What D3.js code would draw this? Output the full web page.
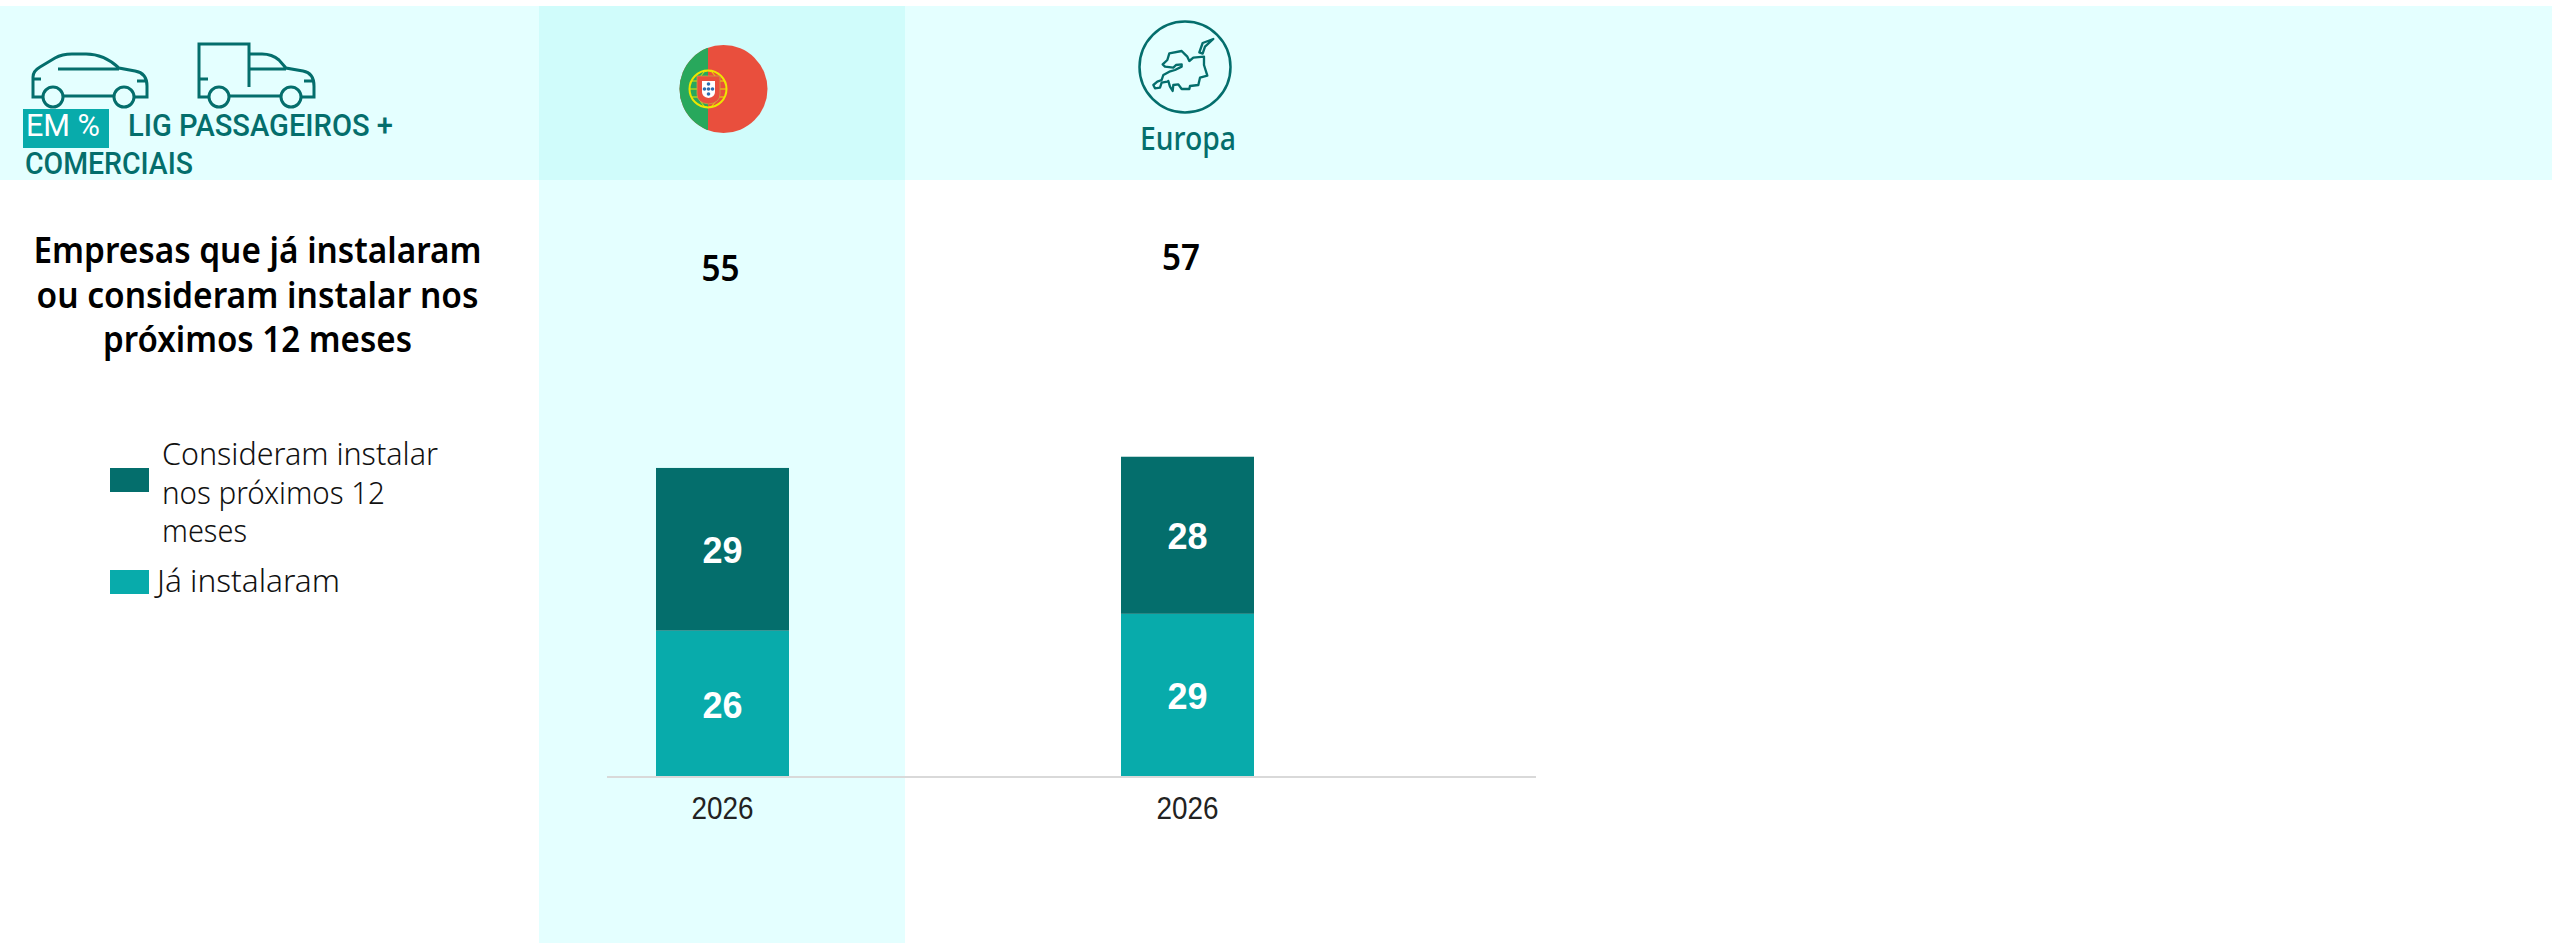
<!DOCTYPE html>
<html><head><meta charset="utf-8">
<script src="https://cdn.jsdelivr.net/npm/d3@7/dist/d3.min.js"></script>
<style>html,body{margin:0;padding:0;background:#fff;overflow:hidden}svg{display:block}</style>
</head><body><svg id="c" width="2552" height="943"></svg>
<script>
const groups = ["Portugal", "Europa"];
const tickLabels = ["2026", "2026"];
const installed = [26, 29];
const considering = [29, 28];
const totals = [55, 57];
const seriesNames = ["Já instalaram", "Consideram instalar"];
const titleLines = ["Empresas que já instalaram", "ou consideram instalar nos", "próximos 12 meses"];
const titleWidths = [448, 442, 309];
const legendLines = ["Consideram instalar", "nos próximos 12", "meses"];
const legendWidths = [276, 223, 85];

const DARK = "#046e6c", TEAL = "#08abab", BAND = "#e4ffff", HILITE = "#d0fcfb";
const sans = "'Noto Sans', sans-serif", arial = "'Liberation Sans', Arial, sans-serif", rob = "Roboto, sans-serif";
const svg = d3.select("#c");
const fit = (sel, w) => sel.attr("textLength", w).attr("lengthAdjust", "spacingAndGlyphs");

// backgrounds
svg.append("rect").attr("x",0).attr("y",6).attr("width",2552).attr("height",174).attr("fill",BAND);
svg.append("rect").attr("x",539).attr("y",6).attr("width",366).attr("height",937).attr("fill",BAND);
svg.append("rect").attr("x",539).attr("y",6).attr("width",366).attr("height",174).attr("fill",HILITE);

// scales
const p = 1 - 133/465;
const x = d3.scaleBand().domain(groups).range([490,1420]).paddingInner(p).paddingOuter(p/2);
const y = d3.scaleLinear().domain([0,100]).range([776.5,215.5]);

// bars
const rows = groups.map((g,i)=>({group:g, installed:installed[i], considering:considering[i], total:totals[i]}));
const stacked = d3.stack().keys(["installed","considering"])(rows);
const color = d3.scaleOrdinal().domain(["installed","considering"]).range([TEAL,DARK]);
const layer = svg.selectAll("g.layer").data(stacked).join("g").attr("class","layer").attr("fill",d=>color(d.key));
layer.selectAll("rect").data(d=>d).join("rect")
  .attr("x",d=>x(d.data.group)).attr("width",x.bandwidth())
  .attr("y",d=>y(d[1])).attr("height",d=>y(d[0])-y(d[1]));
layer.selectAll("text").data(d=>d).join("text")
  .attr("x",d=>x(d.data.group)+x.bandwidth()/2).attr("y",d=>(y(d[0])+y(d[1]))/2+14)
  .attr("text-anchor","middle").attr("fill","#fff")
  .attr("font-family",arial).attr("font-weight",700).attr("font-size",36)
  .text(d=>d[1]-d[0]);

// axis
const axis = d3.axisBottom(x).tickSize(0).tickPadding(0).tickFormat((d,i)=>tickLabels[i]);
const ax = svg.append("g").attr("transform","translate(0,777)").call(axis);
ax.select(".domain").remove();
ax.selectAll("text").attr("y",42).attr("dy",0).attr("fill","#222").attr("font-family",arial).attr("font-size",31)
  .attr("textLength",62).attr("lengthAdjust","spacingAndGlyphs");
svg.append("line").attr("x1",607).attr("x2",1536).attr("y1",777).attr("y2",777).attr("stroke","#d9d9d9").attr("stroke-width",2);

// totals
fit(svg.selectAll("text.total").data(rows).join("text").attr("class","total")
  .attr("x",(d,i)=>i===0?720.5:1181).attr("y",d=>y(d.total)-186.5)
  .attr("text-anchor","middle").attr("fill","#000").attr("font-family",sans).attr("font-weight",600).attr("font-size",36)
  .text(d=>d.total), 38);

// title
svg.selectAll("text.title").data(titleLines).join("text").attr("class","title")
  .attr("x",257.5).attr("y",(d,i)=>263+i*44.5).attr("text-anchor","middle").attr("fill","#000")
  .attr("font-family",sans).attr("font-weight",600).attr("font-size",36)
  .attr("textLength",(d,i)=>titleWidths[i]).attr("lengthAdjust","spacingAndGlyphs").text(d=>d);

// legend
svg.append("rect").attr("x",110).attr("y",468).attr("width",39).attr("height",24).attr("fill",DARK);
svg.append("rect").attr("x",110).attr("y",570).attr("width",39).attr("height",24).attr("fill",TEAL);
svg.selectAll("text.leg").data(legendLines).join("text").attr("class","leg")
  .attr("x",162).attr("y",(d,i)=>465+i*38.5).attr("fill","#111")
  .attr("font-family",sans).attr("font-weight",300).attr("font-size",31)
  .attr("textLength",(d,i)=>legendWidths[i]).attr("lengthAdjust","spacingAndGlyphs").text(d=>d);
fit(svg.append("text").attr("x",157).attr("y",592).attr("fill","#111")
  .attr("font-family",sans).attr("font-weight",300).attr("font-size",31).text(seriesNames[0]), 183);

// header text
svg.append("rect").attr("x",23).attr("y",109).attr("width",86).attr("height",39).attr("fill",TEAL);
fit(svg.append("text").attr("x",26).attr("y",136).attr("fill","#fff").attr("font-family",rob).attr("font-weight",400).attr("font-size",32).text("EM %"), 74);
fit(svg.append("text").attr("x",128).attr("y",136).attr("fill",DARK).attr("font-family",rob).attr("font-weight",500).attr("font-size",32).text("LIG PASSAGEIROS +"), 265);
fit(svg.append("text").attr("x",25).attr("y",174).attr("fill",DARK).attr("font-family",rob).attr("font-weight",500).attr("font-size",32).text("COMERCIAIS"), 168);
fit(svg.append("text").attr("x",1140).attr("y",150).attr("fill",DARK).attr("font-family",sans).attr("font-weight",500).attr("font-size",33).text(groups[1]), 96);

// vehicle icons
const ic = svg.append("g").attr("fill","none").attr("stroke",DARK).attr("stroke-width",3);
ic.append("path").attr("d","M43,97H33V77Q33,71 40,67L55,58Q62,54 72,54H86Q104,54 119,68L135,71Q147,73 147,86V97H135M63,96H114M58,69H119M33,79H41M137,81H147");
ic.append("circle").attr("cx",53).attr("cy",97).attr("r",10);
ic.append("circle").attr("cx",124).attr("cy",97).attr("r",10);
ic.append("path").attr("d","M209,97H199V44H249V87M249,54H262Q272,54 279,60L286,68L303,71Q314,73 314,86V97H302M230,96H281M249,69H286M199,79H208M304,81H314");
ic.append("circle").attr("cx",219).attr("cy",97).attr("r",10);
ic.append("circle").attr("cx",291).attr("cy",97).attr("r",10);

// Europe icon
svg.append("circle").attr("cx",1185).attr("cy",67).attr("r",45.5).attr("fill","none").attr("stroke",DARK).attr("stroke-width",2.5);
svg.append("path").attr("transform","translate(1130,15) scale(0.3333)").attr("fill","none").attr("stroke",DARK).attr("stroke-width",7).attr("stroke-linejoin","round").attr("stroke-linecap","round")
  .attr("d","M250,72L218,84L208,112L218,116L225,95ZM190,128L222,125L222,150L232,182L210,188L205,210L180,213L178,222L155,222L145,208L130,210L128,228L120,215L115,198L112,200L95,203L90,218L75,220L70,210L82,200L95,195L100,180L118,170L135,165L155,155L155,148L138,150L130,158L105,155L98,148L112,135L118,115L155,108L165,118L172,125L178,138Z");

// Portugal flag
const defs = svg.append("defs");
defs.append("clipPath").attr("id","fc").append("circle").attr("cx",723.5).attr("cy",89).attr("r",44);
const f = svg.append("g").attr("clip-path","url(#fc)");
f.append("rect").attr("x",679).attr("y",45).attr("width",90).attr("height",90).attr("fill","#e94f3d");
f.append("rect").attr("x",679).attr("y",45).attr("width",29).attr("height",90).attr("fill","#28a85c");
const fl = svg.append("g");
fl.append("circle").attr("cx",708).attr("cy",89).attr("r",18.5).attr("fill","none").attr("stroke","#eee600").attr("stroke-width",2);
fl.append("ellipse").attr("cx",708).attr("cy",89).attr("rx",10).attr("ry",18.5).attr("fill","none").attr("stroke","#eee600").attr("stroke-width",1);
fl.append("path").attr("d","M690,89H726M691,81H725M691,97H725").attr("stroke","#eee600").attr("stroke-width",1.2).attr("fill","none");
fl.append("path").attr("d","M697,76H720V94Q720,103 708.500,104Q697,103 697,94Z").attr("fill","#e94f3d").attr("stroke","#c9a24a").attr("stroke-width",0.8);
fl.append("path").attr("d","M702,81H715V92Q715,97 708.500,98Q702,97 702,92Z").attr("fill","#fff");
fl.selectAll("circle.q").data([[708.5,84],[704.5,89],[708.5,89],[712.5,89],[708.5,94]]).join("circle").attr("class","q")
  .attr("cx",d=>d[0]).attr("cy",d=>d[1]).attr("r",1.8).attr("fill","#2f6fb0");
</script></body></html>
